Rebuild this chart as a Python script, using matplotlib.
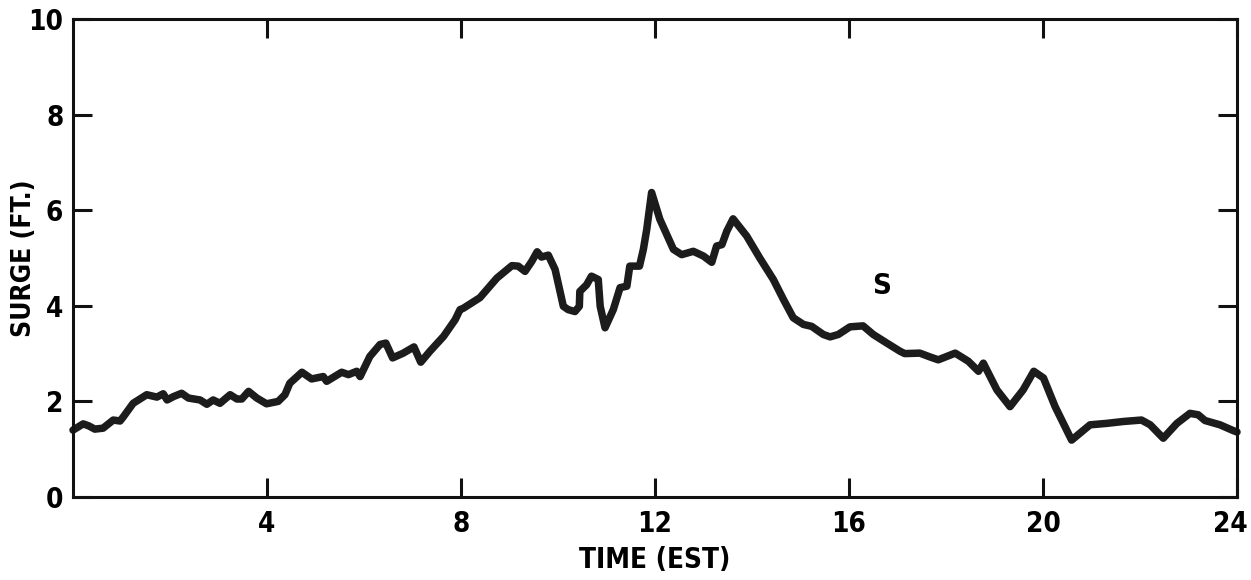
import matplotlib
matplotlib.use("Agg")
import matplotlib.pyplot as plt
from matplotlib.transforms import ScaledTranslation

# ---- data ----
time_est = [0.0, 0.21, 0.32, 0.45, 0.62, 0.83, 0.97, 1.04, 1.24, 1.52, 1.73, 1.86, 1.94, 2.07,
            2.24, 2.38, 2.62, 2.76, 2.89, 3.03, 3.24, 3.38, 3.48, 3.62, 3.79, 3.99, 4.23, 4.37,
            4.47, 4.72, 4.92, 5.16, 5.23, 5.54, 5.68, 5.85, 5.92, 6.12, 6.33, 6.45, 6.59, 6.81,
            7.03, 7.17, 7.36, 7.64, 7.88, 7.98, 8.05, 8.39, 8.74, 9.05, 9.18, 9.32, 9.46, 9.57,
            9.66, 9.80, 9.94, 10.11, 10.21, 10.35, 10.44, 10.45, 10.59, 10.69, 10.83, 10.87,
            10.97, 11.14, 11.28, 11.42, 11.48, 11.68, 11.76, 11.83, 11.93, 12.10, 12.38, 12.55,
            12.79, 13.00, 13.17, 13.27, 13.38, 13.48, 13.61, 13.89, 14.16, 14.44, 14.65, 14.85,
            15.06, 15.23, 15.47, 15.61, 15.78, 16.02, 16.29, 16.50, 16.78, 17.05, 17.15, 17.46,
            17.67, 17.84, 18.19, 18.46, 18.67, 18.77, 19.05, 19.32, 19.59, 19.81, 20.01, 20.25,
            20.59, 20.97, 21.31, 21.66, 22.03, 22.21, 22.48, 22.76, 23.03, 23.20, 23.34, 23.65,
            23.92, 24.0]
surge_ft = [1.40, 1.53, 1.49, 1.42, 1.44, 1.61, 1.59, 1.68, 1.96, 2.14, 2.09, 2.16, 2.03, 2.10,
            2.17, 2.07, 2.03, 1.94, 2.03, 1.96, 2.14, 2.05, 2.05, 2.21, 2.07, 1.95, 2.00, 2.14,
            2.38, 2.61, 2.47, 2.52, 2.42, 2.61, 2.56, 2.63, 2.52, 2.94, 3.19, 3.22, 2.91, 3.01,
            3.14, 2.82, 3.05, 3.36, 3.71, 3.92, 3.95, 4.17, 4.58, 4.84, 4.83, 4.72, 4.93, 5.13,
            5.02, 5.06, 4.76, 3.99, 3.92, 3.88, 3.99, 4.30, 4.44, 4.62, 4.55, 3.99,
            3.54, 3.92, 4.38, 4.41, 4.83, 4.83, 5.18, 5.60, 6.37, 5.81, 5.18, 5.07,
            5.14, 5.04, 4.91, 5.25, 5.28, 5.56, 5.82, 5.46, 5.00, 4.55, 4.13, 3.75,
            3.61, 3.57, 3.40, 3.35, 3.40, 3.56, 3.58, 3.40, 3.22, 3.05, 3.00, 3.01,
            2.93, 2.87, 3.01, 2.84, 2.63, 2.80, 2.24, 1.89, 2.24, 2.63, 2.49, 1.89,
            1.19, 1.51, 1.54, 1.58, 1.61, 1.51, 1.23, 1.54, 1.75, 1.72, 1.60, 1.51,
            1.39, 1.36]

x_ticks = [4, 8, 12, 16, 20, 24]
y_ticks = [0, 2, 4, 6, 8, 10]
x_label = "TIME (EST)"
y_label = "SURGE (FT.)"
curve_label = "S"

# ---- font ----
plt.rcParams["font.family"] = ["DejaVu Sans"]
plt.rcParams["font.stretch"] = "condensed"
plt.rcParams["font.weight"] = "bold"

fig = plt.figure(figsize=(12.51, 5.80), dpi=100)
ax = fig.add_axes([73 / 1251, 1 - 497 / 580, (1237 - 73) / 1251, (497 - 19) / 580])

ax.plot(time_est, surge_ft, color="#1c1c1c", lw=5.4, solid_joinstyle="round",
        solid_capstyle="round", clip_on=False)

ax.set_xlim(0, 24)
ax.set_ylim(0, 10)
ax.set_xticks(x_ticks)
ax.set_yticks(y_ticks)
ax.set_xticklabels([str(v) for v in x_ticks])
ax.set_yticklabels([str(v) for v in y_ticks])

for s in ax.spines.values():
    s.set_linewidth(2.2)
    s.set_color("#111111")

ax.tick_params(axis="both", direction="in", length=14, width=2.2, color="#111111",
               labelsize=20, top=True, right=True)
ax.tick_params(axis="x", pad=9)
ax.tick_params(axis="y", pad=7)

# nudge the last x tick label ("24") slightly left so it stays inside the figure
last = ax.get_xticklabels()[-1]
last.set_transform(last.get_transform() + ScaledTranslation(-7 / 100, 0, fig.dpi_scale_trans))

ax.set_xlabel(x_label, fontsize=20, fontweight="bold", labelpad=6)
ax.set_ylabel(y_label, fontsize=19, fontweight="bold", labelpad=-6)

ax.text(16.67, 4.42, curve_label, fontsize=21, fontweight="bold", ha="center", va="center")

fig.savefig("out.png", dpi=100)
